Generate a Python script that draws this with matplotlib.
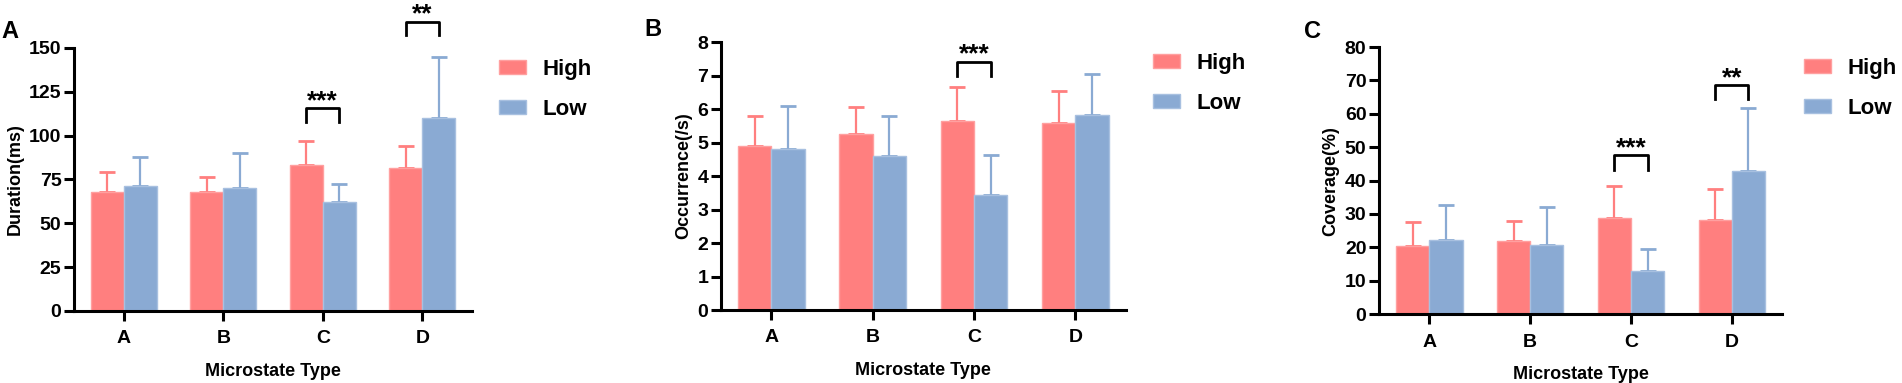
import numpy as np
import matplotlib.pyplot as plt

plt.rcParams['font.family'] = ['Liberation Sans', 'DejaVu Sans']
plt.rcParams['font.weight'] = 'bold'

categories = ["A", "B", "C", "D"]
groups = ["High", "Low"]

# Duration (ms)
dur_high = [68, 68, 83, 81.5]
dur_high_sd = [11, 8.5, 14, 12.5]
dur_low = [71, 70, 62, 110]
dur_low_sd = [17, 20, 10.5, 35]

# Occurrence (/s)
occ_high = [4.90, 5.25, 5.65, 5.57]
occ_high_sd = [0.90, 0.81, 1.01, 0.98]
occ_low = [4.82, 4.60, 3.42, 5.82]
occ_low_sd = [1.26, 1.19, 1.21, 1.22]

# Coverage (%)
cov_high = [20.4, 21.9, 28.9, 28.2]
cov_high_sd = [7.2, 5.9, 9.5, 9.3]
cov_low = [22.3, 20.6, 12.9, 43.0]
cov_low_sd = [10.3, 11.4, 6.5, 18.9]

c_high = "#FF7F7F"
c_low = "#8AAAD3"
e_high = "#FFA0A0"
e_low = "#A8C0E0"

panels = [
    dict(letter="A", ylabel="Duration(ms)", hi=dur_high, hs=dur_high_sd, lo=dur_low, ls=dur_low_sd,
         ylim=150, ticks=np.arange(0, 151, 25), pos=[0.0389, 0.188, 0.2093, 0.687],
         sig=[(2, 107.7, 115.7, "***"), (3, 157.6, 165.0, "**")],
         leg_x=1.017, letter_xy=(0.001, 0.90)),
    dict(letter="B", ylabel="Occurrence(/s)", hi=occ_high, hs=occ_high_sd, lo=occ_low, ls=occ_low_sd,
         ylim=8, ticks=np.arange(0, 9, 1), pos=[0.379, 0.1906, 0.213, 0.6997],
         sig=[(2, 6.99, 7.41, "***")],
         leg_x=1.017, letter_xy=(0.339, 0.905)),
    dict(letter="C", ylabel="Coverage(%)", hi=cov_high, hs=cov_high_sd, lo=cov_low, ls=cov_low_sd,
         ylim=80, ticks=np.arange(0, 81, 10), pos=[0.725, 0.180, 0.212, 0.697],
         sig=[(2, 43.3, 47.6, "***"), (3, 64.4, 68.7, "**")],
         leg_x=1.005, letter_xy=(0.6855, 0.90)),
]

fig = plt.figure(figsize=(19.02, 3.83), dpi=100)
w = 0.33
x = np.arange(len(categories))

for p in panels:
    ax = fig.add_axes(p["pos"])
    ax.bar(x - w / 2, p["hi"], w, color=c_high, edgecolor=e_high, linewidth=1, label="High", zorder=2)
    ax.bar(x + w / 2, p["lo"], w, color=c_low, edgecolor=e_low, linewidth=1, label="Low", zorder=2)
    ax.errorbar(x - w / 2, p["hi"], yerr=[np.zeros(4), p["hs"]], fmt="none", ecolor=c_high,
                elinewidth=1.6, capsize=5.5, capthick=2, zorder=1)
    ax.errorbar(x + w / 2, p["lo"], yerr=[np.zeros(4), p["ls"]], fmt="none", ecolor=c_low,
                elinewidth=1.6, capsize=5.5, capthick=2, zorder=1)

    for i, lo_y, hi_y, s in p["sig"]:
        ax.plot([i - w / 2, i - w / 2, i + w / 2, i + w / 2], [lo_y, hi_y, hi_y, lo_y],
                color="black", lw=2, clip_on=False)
        ax.annotate(s, xy=(i, hi_y), xytext=(0, 0), textcoords="offset points",
                    ha="center", va="baseline", fontsize=19, fontweight="bold",
                    annotation_clip=False)

    ax.set_xlim(-0.5, 3.5)
    ax.set_ylim(0, p["ylim"])
    ax.set_yticks(p["ticks"])
    ax.set_xticks(x)
    ax.set_xticklabels(categories)
    for s in ["top", "right"]:
        ax.spines[s].set_visible(False)
    for s in ["left", "bottom"]:
        ax.spines[s].set_linewidth(2.2)
    ax.tick_params(axis="both", width=2.2, length=7, labelsize=14, pad=2)
    ax.tick_params(axis="x", pad=7)
    for lab in ax.get_xticklabels() + ax.get_yticklabels():
        lab.set_fontweight("bold")
    ax.set_xlabel("Microstate Type", fontsize=13, fontweight="bold", labelpad=11)
    ax.set_ylabel(p["ylabel"], fontsize=13, fontweight="bold", labelpad=4)

    ax.legend(loc="upper left", bbox_to_anchor=(p["leg_x"], 1.035), frameon=False,
              prop=dict(size=16, weight="bold"), handlelength=1.2, handleheight=0.6,
              handletextpad=0.75, labelspacing=0.85)

    fig.text(p["letter_xy"][0], p["letter_xy"][1], p["letter"], fontsize=17, fontweight="bold")

fig.savefig("out.png", dpi=100)
